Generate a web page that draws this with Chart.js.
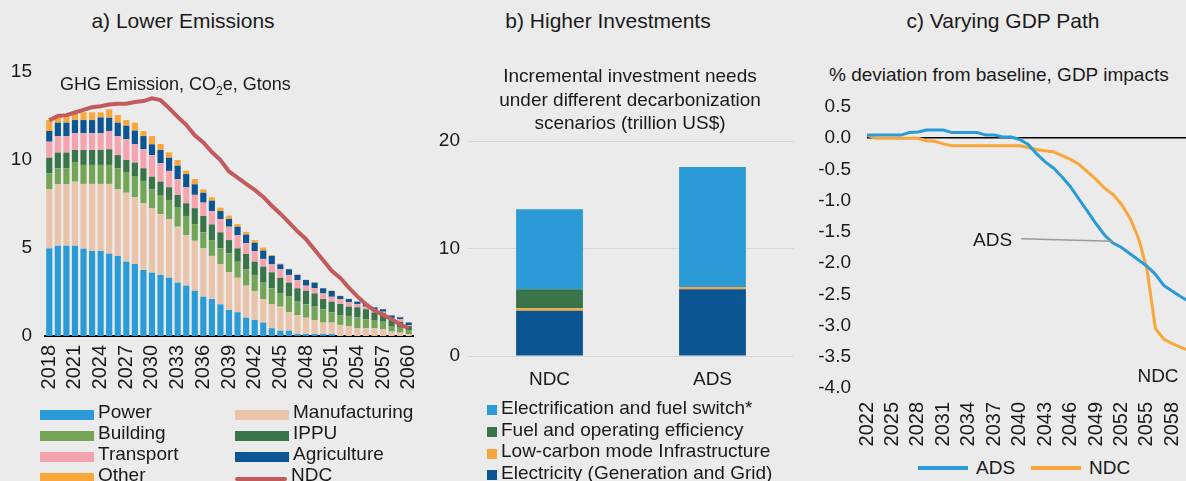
<!DOCTYPE html>
<html>
<head>
<meta charset="utf-8">
<script src="https://cdn.jsdelivr.net/npm/chart.js@4.4.1/dist/chart.umd.min.js"></script>
<style>
  body { margin: 0; width: 1186px; height: 481px; overflow: hidden; background: #ebebeb;
         font-family: "Liberation Sans", Arial, sans-serif; color: #1a1a1a; position: relative; }
  .box { position: absolute; }
  .title { position: absolute; font-size: 21px; white-space: nowrap; transform: translateX(-50%); }
  .sub { position: absolute; font-size: 19px; white-space: nowrap; text-align: center; line-height: 23.5px; }
  .leg { position: absolute; font-size: 19px; white-space: nowrap; }
  .leg .item { display: flex; align-items: center; height: 21px; }
  .leg .sw { display: inline-block; margin-right: 4px; }
</style>
</head>
<body>
<div class="title" style="left:183px;top:9px">a) Lower Emissions</div>
<div class="title" style="left:608px;top:9px">b) Higher Investments</div>
<div class="title" style="left:1003px;top:9px">c) Varying GDP Path</div>

<div class="box" style="left:0;top:60px;width:440px;height:350px"><canvas id="chartA"></canvas></div>
<div class="sub" style="left:60px;top:73px;font-size:18px">GHG Emission, CO<sub style="font-size:12px">2</sub>e, Gtons</div>
<div class="leg" id="legA" style="left:40px;top:401px;display:grid;grid-template-columns:195px 195px"></div>

<div class="box" style="left:420px;top:100px;width:380px;height:300px"><canvas id="chartB"></canvas></div>
<div class="sub" style="left:480px;top:64px;width:300px">Incremental investment needs<br>under different decarbonization<br>scenarios (trillion US$)</div>
<div class="leg" id="legB" style="left:487px;top:397px"></div>

<div class="box" style="left:800px;top:95px;width:430px;height:360px"><canvas id="chartC"></canvas></div>
<div class="sub" style="left:829px;top:63px">% deviation from baseline, GDP impacts</div>
<div class="leg" id="legC" style="left:918px;top:457px;display:flex"></div>

<script>
// ---- a) Lower Emissions (Gtons CO2e) ----
const yearsA = ['2018','2019','2020','2021','2022','2023','2024','2025','2026','2027','2028','2029','2030',
  '2031','2032','2033','2034','2035','2036','2037','2038','2039','2040','2041','2042','2043','2044','2045',
  '2046','2047','2048','2049','2050','2051','2052','2053','2054','2055','2056','2057','2058','2059','2060'];
const power = [4.98,5.13,5.13,5.13,4.96,4.83,4.83,4.68,4.55,4.22,4.09,3.75,3.6,3.47,3.31,3.03,2.86,2.57,2.23,2.1,
  1.8,1.48,1.35,1.04,0.91,0.76,0.44,0.3,0.3,0.11,0.11,0.11,0.11,0.11,0,0,0,0,0,0,0,0,0];
const manufacturing = [3.35,3.49,3.49,3.64,3.68,3.81,3.81,3.96,3.78,3.92,3.79,3.79,3.65,3.46,3.34,3.18,2.88,2.84,
  2.75,2.45,2.27,2.14,1.96,1.82,1.65,1.34,1.36,1.37,1.05,1.08,0.93,0.8,0.65,0.65,0.63,0.57,0.44,0.44,0.44,0.38,0.25,0.19,0.11];
const building = [0.91,0.91,0.91,1.08,1.08,1.08,1.08,1.08,1.2,1.14,1.21,1.27,1.08,1.08,1.08,1.08,1.08,0.95,0.91,0.9,
  0.91,1.08,0.91,0.93,0.91,0.93,0.91,0.75,0.92,0.76,0.76,0.76,0.76,0.59,0.56,0.57,0.62,0.51,0.47,0.43,0.28,0.28,0.23];
const ippu = [0.89,0.89,0.89,0.72,0.85,0.85,0.85,0.89,0.75,0.72,0.76,0.72,0.72,0.76,0.72,0.72,0.72,0.9,0.93,0.89,
  0.91,0.75,0.76,0.87,0.75,0.91,0.91,0.89,0.76,0.76,0.77,0.75,0.58,0.6,0.63,0.53,0.57,0.57,0.42,0.48,0.38,0.34,0.23];
const transport = [0.91,0.94,0.94,0.95,0.95,0.95,0.95,1.04,1.08,1.19,1.04,1.08,1.23,1.04,0.93,0.91,0.91,0.76,0.76,0.76,
  0.76,0.76,0.76,0.61,0.61,0.44,0.45,0.48,0.44,0.47,0.29,0.29,0.32,0.28,0.28,0.26,0.19,0.15,0.15,0.09,0.09,0.14,0.05];
const agriculture = [0.61,0.76,0.76,0.75,0.75,0.75,0.9,0.75,0.76,0.76,0.78,0.75,0.61,0.76,0.75,0.76,0.75,0.6,0.56,0.59,
  0.45,0.44,0.47,0.49,0.47,0.47,0.48,0.28,0.32,0.29,0.32,0.32,0.29,0.33,0.17,0.17,0.13,0.15,0.15,0.14,0.17,0.11,0.15];
const other = [0.62,0.34,0.38,0.38,0.44,0.44,0.29,0.48,0.44,0.32,0.45,0.29,0.47,0.34,0.31,0.32,0.19,0.3,0.19,0.19,
  0.19,0.19,0.15,0.15,0.15,0.17,0.05,0.04,0.03,0.03,0.02,0.02,0.02,0.02,0.02,0.02,0.02,0.01,0,0,0,0.03,0];
const ndcPath = [12.25,12.5,12.55,12.7,12.85,13.0,13.05,13.15,13.2,13.2,13.3,13.35,13.5,13.4,12.95,12.45,12.0,11.4,
  11.0,10.45,10.0,9.35,9.0,8.65,8.3,7.9,7.4,6.95,6.45,5.95,5.5,4.9,4.3,3.7,3.3,2.75,2.25,1.8,1.45,1.2,0.95,0.65,0.45];

// ---- b) Higher Investments (trillion US$) ----
const scenarios = ['NDC', 'ADS'];
const electricity = [4.2, 6.2];
const lowCarbon = [0.25, 0.22];
const fuelEfficiency = [1.75, 0];
const electrification = [7.45, 11.15];

// ---- c) Varying GDP Path (% deviation from baseline) ----
const yearsC = ['2022','2023','2024','2025','2026','2027','2028','2029','2030','2031','2032','2033','2034','2035',
  '2036','2037','2038','2039','2040','2041','2042','2043','2044','2045','2046','2047','2048','2049','2050','2051',
  '2052','2053','2054','2055','2056','2057','2058','2059','2060'];
const gdpADS = [0.05,0.05,0.05,0.05,0.05,0.09,0.1,0.13,0.13,0.13,0.09,0.09,0.09,0.09,0.05,0.05,0.02,0.02,-0.02,-0.1,
  -0.25,-0.38,-0.48,-0.62,-0.78,-0.98,-1.17,-1.37,-1.55,-1.68,-1.75,-1.85,-1.95,-2.05,-2.18,-2.36,-2.45,-2.54,-2.62];
const gdpNDC = [0.05,0,0,0,0,0,0,-0.04,-0.05,-0.09,-0.12,-0.12,-0.12,-0.12,-0.12,-0.12,-0.12,-0.12,-0.12,-0.15,
  -0.18,-0.2,-0.22,-0.28,-0.34,-0.42,-0.54,-0.66,-0.8,-0.9,-1.06,-1.28,-1.6,-2.1,-3.05,-3.22,-3.29,-3.35,-3.4];

const FONT = 'Liberation Sans, Arial, sans-serif';
const TXT = '#1a1a1a';
Chart.defaults.font.family = FONT;
Chart.defaults.color = TXT;
Chart.defaults.animation = false;
Chart.defaults.plugins.legend.display = false;
Chart.defaults.plugins.tooltip.enabled = false;

const colA = {
  Power: '#2b9bd8', Manufacturing: '#e9c4ab', Building: '#74a557', IPPU: '#3a7549',
  Transport: '#f5a3ae', Agriculture: '#0b5592', Other: '#f9a73a', NDC: '#c25b5c'
};

function bars(label, data, color) {
  return { label: label, data: data, backgroundColor: color, barPercentage: 0.72, categoryPercentage: 1, order: 1 };
}

new Chart(document.getElementById('chartA'), {
  type: 'bar',
  data: {
    labels: yearsA,
    datasets: [
      bars('Power', power, colA.Power),
      bars('Manufacturing', manufacturing, colA.Manufacturing),
      bars('Building', building, colA.Building),
      bars('IPPU', ippu, colA.IPPU),
      bars('Transport', transport, colA.Transport),
      bars('Agriculture', agriculture, colA.Agriculture),
      bars('Other', other, colA.Other),
      { type: 'line', label: 'NDC', data: ndcPath, borderColor: colA.NDC, borderWidth: 4,
        pointRadius: 0, stack: 'ndc', order: 0 }
    ]
  },
  options: {
    responsive: true, maintainAspectRatio: false,
    layout: { padding: { top: 12, right: 27, left: 0, bottom: 0 } },
    scales: {
      x: {
        stacked: true,
        grid: { display: false, tickLength: 8 },
        border: { color: '#000', width: 2 },
        ticks: { autoSkip: false, minRotation: 90, maxRotation: 90, padding: 1, font: { size: 20 },
          callback: (v, i) => i % 3 === 0 ? yearsA[i] : '' },
        afterFit: s => { s.height = 74; }
      },
      y: {
        stacked: true, min: 0, max: 15,
        grid: { display: false, tickLength: 13 },
        border: { display: false },
        ticks: { stepSize: 5, padding: 0, font: { size: 19 } },
        afterFit: s => { s.width = 45; }
      }
    }
  }
});

// legend a)
const legA = document.getElementById('legA');
['Power','Manufacturing','Building','IPPU','Transport','Agriculture','Other','NDC'].forEach(name => {
  const it = document.createElement('div');
  it.className = 'item';
  const sw = document.createElement('span');
  sw.className = 'sw';
  if (name === 'NDC') {
    sw.style.cssText = 'width:52px;height:4px;border-radius:2px;margin-top:8px;background:' + colA[name];
  } else {
    sw.style.cssText = 'width:54px;height:10px;margin-top:6px;background:' + colA[name];
  }
  it.appendChild(sw);
  it.appendChild(document.createTextNode(name));
  legA.appendChild(it);
});

// ---- b) ----
const colB = {
  'Electrification and fuel switch*': '#2b9bd8',
  'Fuel and operating efficiency': '#3a7549',
  'Low-carbon mode Infrastructure': '#f9a73a',
  'Electricity (Generation and Grid)': '#0b5592'
};
function barsB(label, data) {
  return { label: label, data: data, backgroundColor: colB[label], barPercentage: 0.41, categoryPercentage: 1 };
}
new Chart(document.getElementById('chartB'), {
  type: 'bar',
  data: {
    labels: scenarios,
    datasets: [
      barsB('Electricity (Generation and Grid)', electricity),
      barsB('Low-carbon mode Infrastructure', lowCarbon),
      barsB('Fuel and operating efficiency', fuelEfficiency),
      barsB('Electrification and fuel switch*', electrification)
    ]
  },
  options: {
    responsive: true, maintainAspectRatio: false,
    layout: { padding: { top: 41, right: 6, left: 0, bottom: 0 } },
    scales: {
      x: {
        stacked: true,
        grid: { display: false },
        border: { display: false },
        ticks: { padding: 4, font: { size: 19 } },
        afterFit: s => { s.height = 44; }
      },
      y: {
        stacked: true, min: 0, max: 20,
        grid: { color: '#d6d6d6', lineWidth: 1, drawTicks: false },
        border: { display: false },
        ticks: { stepSize: 10, padding: 8, font: { size: 19 } },
        afterFit: s => { s.width = 48; }
      }
    }
  }
});

const legB = document.getElementById('legB');
Object.keys(colB).forEach(name => {
  const it = document.createElement('div');
  it.className = 'item';
  it.style.height = '21.7px';
  const sw = document.createElement('span');
  sw.className = 'sw';
  sw.style.cssText = 'width:10px;height:10px;margin-top:5px;background:' + colB[name];
  it.appendChild(sw);
  it.appendChild(document.createTextNode(name));
  legB.appendChild(it);
});

// ---- c) ----
const colC = { ADS: '#2b9bd8', NDC: '#f9a73a' };

// text labels placed in data units of the chart
const notesC = [
  { text: 'ADS', x: 2036.8, y: -1.64, from: [2040.2, -1.61], to: [2051, -1.65] },
  { text: 'NDC', x: 2056.3, y: -3.82 }
];
const notePlugin = {
  id: 'notes',
  afterDatasetsDraw(chart) {
    const ctx = chart.ctx, xs = chart.scales.x, ys = chart.scales.y;
    const px = yr => xs.getPixelForValue(yr - 2022);
    ctx.save();
    notesC.forEach(n => {
      if (n.from) {
        ctx.strokeStyle = '#9a9a9a';
        ctx.lineWidth = 1.5;
        ctx.beginPath();
        ctx.moveTo(px(n.from[0]), ys.getPixelForValue(n.from[1]));
        ctx.lineTo(px(n.to[0]), ys.getPixelForValue(n.to[1]));
        ctx.stroke();
      }
      ctx.fillStyle = TXT;
      ctx.font = '19px ' + FONT;
      ctx.textAlign = 'center';
      ctx.textBaseline = 'middle';
      ctx.fillText(n.text, px(n.x), ys.getPixelForValue(n.y));
    });
    ctx.restore();
  }
};

new Chart(document.getElementById('chartC'), {
  type: 'line',
  data: {
    labels: yearsC,
    datasets: [
      { label: 'ADS', data: gdpADS, borderColor: colC.ADS, borderWidth: 3, pointRadius: 0 },
      { label: 'NDC', data: gdpNDC, borderColor: colC.NDC, borderWidth: 3, pointRadius: 0 }
    ]
  },
  options: {
    responsive: true, maintainAspectRatio: false,
    layout: { padding: { top: 12, right: 40.6, left: 0, bottom: 0 } },
    scales: {
      x: {
        grid: { display: false, tickLength: 8 },
        border: { display: false },
        ticks: { autoSkip: false, minRotation: 90, maxRotation: 90, padding: 6, font: { size: 20 },
          callback: (v, i) => i % 3 === 0 ? yearsC[i] : '' },
        afterFit: s => { s.height = 67; }
      },
      y: {
        min: -4, max: 0.5,
        grid: { color: c => c.tick.value === 0 ? '#000' : 'rgba(0,0,0,0)', tickColor: 'rgba(0,0,0,0)',
          lineWidth: 1.5, drawTicks: true, tickLength: 16 },
        border: { display: false },
        ticks: { stepSize: 0.5, padding: 0, font: { size: 19 }, callback: v => v.toFixed(1) },
        afterFit: s => { s.width = 67; }
      }
    }
  },
  plugins: [notePlugin]
});

const legC = document.getElementById('legC');
Object.keys(colC).forEach(name => {
  const it = document.createElement('div');
  it.className = 'item';
  it.style.marginRight = '16px';
  const sw = document.createElement('span');
  sw.className = 'sw';
  sw.style.cssText = 'width:50px;height:4px;margin-right:8px;background:' + colC[name];
  it.appendChild(sw);
  it.appendChild(document.createTextNode(name));
  legC.appendChild(it);
});
</script>
</body>
</html>
